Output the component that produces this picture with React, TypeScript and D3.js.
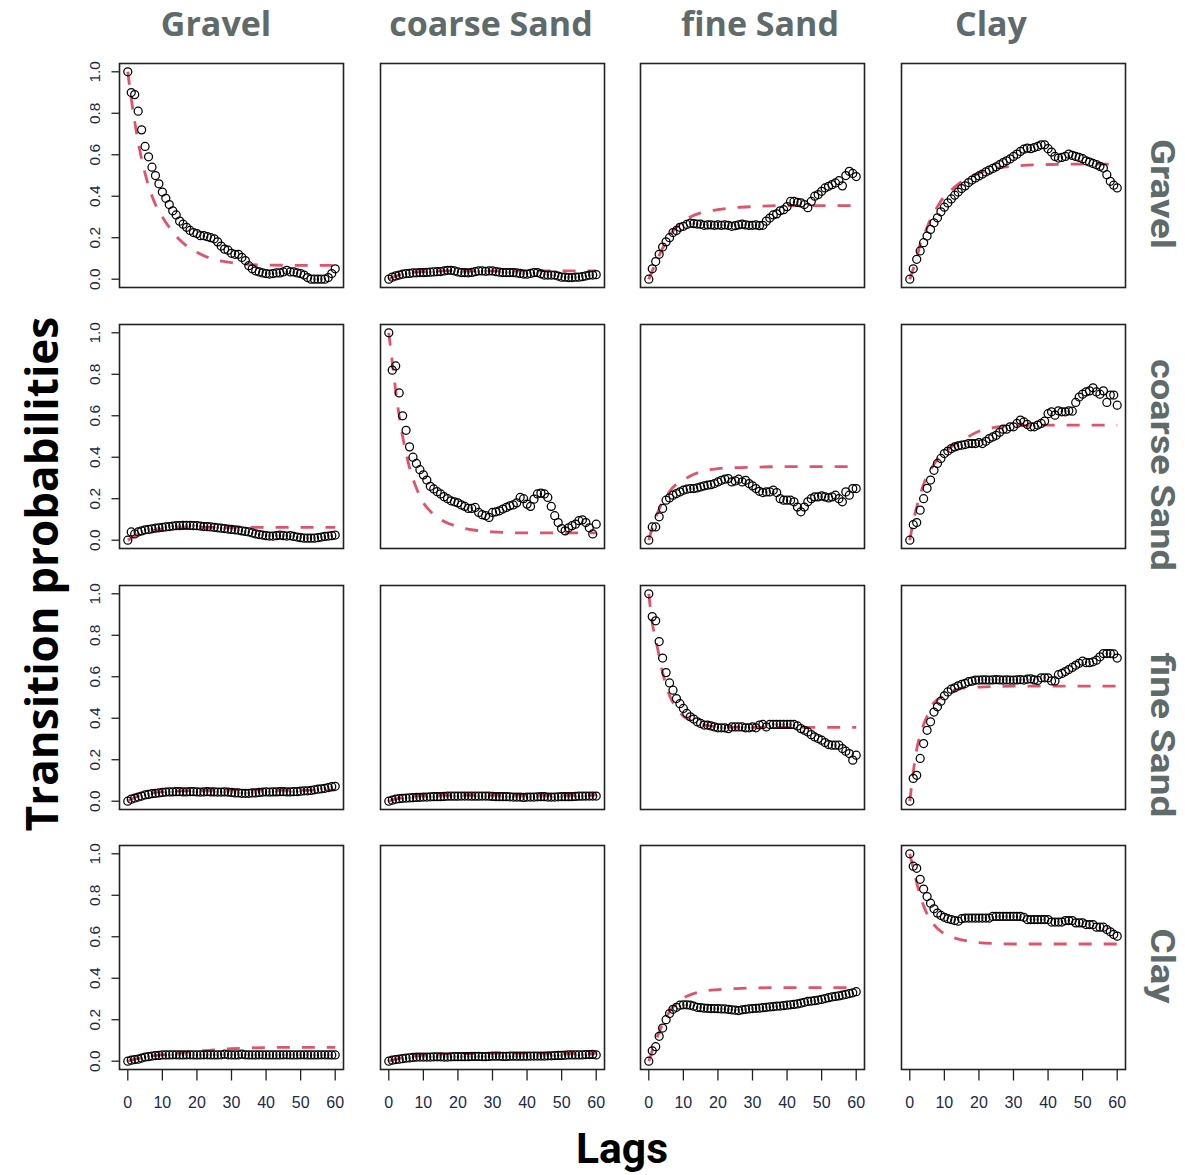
import React from "react";
import * as d3 from "d3";

const facies = ["Gravel", "coarse Sand", "fine Sand", "Clay"];
const yTicks = [0, 0.2, 0.4, 0.6, 0.8, 1.0];
const xTicks = [0, 10, 20, 30, 40, 50, 60];

// observed transition probabilities, lags 0..60 (row = from, col = to)
const obsGravelGravel = [1.0,0.9,0.89,0.81,0.72,0.64,0.59,0.54,0.5,0.46,0.42,0.39,0.36,0.33,0.31,0.28,0.265,0.25,0.235,0.225,0.22,0.21,0.21,0.205,0.2,0.195,0.18,0.16,0.145,0.14,0.125,0.12,0.12,0.105,0.09,0.065,0.05,0.04,0.035,0.03,0.027,0.025,0.027,0.03,0.03,0.035,0.043,0.035,0.035,0.03,0.027,0.02,0.008,0.0,0.0,0.0,0.0,0.0,0.008,0.027,0.05];
const obsGravelCoarse = [0.0,0.01,0.016,0.02,0.024,0.027,0.028,0.03,0.031,0.032,0.032,0.033,0.034,0.035,0.036,0.037,0.04,0.043,0.043,0.04,0.035,0.032,0.032,0.031,0.033,0.036,0.04,0.04,0.038,0.04,0.04,0.036,0.034,0.032,0.032,0.032,0.032,0.03,0.028,0.025,0.024,0.028,0.032,0.032,0.026,0.02,0.02,0.02,0.02,0.015,0.01,0.01,0.008,0.008,0.01,0.01,0.012,0.016,0.02,0.02,0.022];
const obsGravelFine = [0.0,0.05,0.085,0.12,0.155,0.18,0.2,0.225,0.235,0.25,0.255,0.264,0.27,0.268,0.266,0.265,0.26,0.262,0.262,0.26,0.262,0.26,0.262,0.26,0.255,0.258,0.262,0.265,0.262,0.26,0.26,0.262,0.258,0.26,0.28,0.295,0.31,0.315,0.33,0.335,0.35,0.375,0.375,0.37,0.368,0.36,0.345,0.375,0.4,0.408,0.424,0.44,0.448,0.456,0.464,0.475,0.45,0.5,0.52,0.51,0.495];
const obsGravelClay = [0.0,0.05,0.096,0.136,0.176,0.208,0.24,0.272,0.296,0.325,0.347,0.368,0.387,0.405,0.42,0.437,0.45,0.466,0.478,0.488,0.498,0.507,0.517,0.526,0.534,0.542,0.552,0.562,0.571,0.58,0.592,0.603,0.616,0.627,0.632,0.629,0.635,0.64,0.648,0.648,0.629,0.613,0.592,0.584,0.587,0.592,0.603,0.597,0.592,0.587,0.581,0.571,0.565,0.558,0.552,0.544,0.536,0.504,0.472,0.453,0.44];

const obsCoarseGravel = [0.0,0.04,0.03,0.04,0.045,0.05,0.052,0.055,0.058,0.06,0.062,0.064,0.066,0.068,0.07,0.07,0.071,0.072,0.071,0.07,0.07,0.068,0.066,0.065,0.064,0.062,0.06,0.058,0.056,0.054,0.052,0.05,0.048,0.045,0.042,0.04,0.035,0.03,0.027,0.025,0.022,0.02,0.02,0.022,0.024,0.022,0.02,0.022,0.018,0.015,0.012,0.01,0.01,0.01,0.01,0.012,0.015,0.018,0.02,0.022,0.025];
const obsCoarseCoarse = [1.0,0.82,0.84,0.71,0.6,0.53,0.45,0.4,0.37,0.34,0.315,0.29,0.26,0.247,0.234,0.223,0.21,0.2,0.19,0.185,0.18,0.17,0.163,0.153,0.153,0.158,0.134,0.123,0.118,0.11,0.134,0.137,0.142,0.15,0.158,0.166,0.17,0.18,0.206,0.2,0.174,0.163,0.198,0.223,0.227,0.223,0.206,0.163,0.118,0.085,0.056,0.045,0.06,0.07,0.077,0.094,0.098,0.085,0.06,0.03,0.077];
const obsCoarseFine = [0.0,0.064,0.064,0.113,0.153,0.193,0.204,0.217,0.225,0.233,0.241,0.246,0.249,0.249,0.252,0.257,0.262,0.265,0.268,0.273,0.281,0.289,0.294,0.297,0.281,0.286,0.294,0.281,0.289,0.273,0.262,0.249,0.236,0.23,0.233,0.233,0.241,0.23,0.2,0.193,0.193,0.193,0.185,0.16,0.137,0.16,0.185,0.2,0.209,0.209,0.214,0.209,0.204,0.209,0.217,0.2,0.185,0.233,0.217,0.249,0.249];
const obsCoarseClay = [0.0,0.075,0.085,0.145,0.2,0.25,0.29,0.337,0.37,0.394,0.418,0.43,0.442,0.45,0.455,0.458,0.461,0.466,0.466,0.466,0.471,0.466,0.477,0.49,0.498,0.506,0.52,0.535,0.535,0.547,0.547,0.563,0.579,0.57,0.558,0.547,0.547,0.555,0.563,0.574,0.61,0.619,0.603,0.624,0.619,0.619,0.624,0.622,0.664,0.69,0.704,0.715,0.72,0.735,0.715,0.704,0.72,0.664,0.7,0.7,0.651];

const obsFineGravel = [0.0,0.01,0.015,0.02,0.025,0.03,0.033,0.036,0.038,0.04,0.042,0.044,0.045,0.045,0.046,0.046,0.045,0.045,0.046,0.046,0.045,0.044,0.045,0.046,0.045,0.045,0.044,0.044,0.045,0.044,0.042,0.04,0.04,0.038,0.038,0.038,0.04,0.04,0.042,0.044,0.045,0.044,0.045,0.045,0.046,0.046,0.045,0.045,0.046,0.046,0.048,0.05,0.05,0.052,0.055,0.058,0.06,0.062,0.066,0.07,0.072];
const obsFineCoarse = [0.0,0.005,0.01,0.012,0.014,0.015,0.016,0.017,0.018,0.019,0.02,0.02,0.021,0.022,0.022,0.022,0.023,0.024,0.024,0.024,0.024,0.025,0.025,0.025,0.024,0.024,0.024,0.025,0.025,0.024,0.023,0.022,0.022,0.022,0.022,0.021,0.02,0.02,0.02,0.018,0.02,0.02,0.02,0.021,0.022,0.022,0.02,0.02,0.02,0.021,0.022,0.022,0.022,0.022,0.023,0.024,0.024,0.025,0.025,0.025,0.025];
const obsFineFine = [1.0,0.89,0.87,0.77,0.69,0.62,0.57,0.535,0.495,0.47,0.447,0.423,0.407,0.396,0.383,0.375,0.367,0.367,0.363,0.358,0.354,0.354,0.354,0.35,0.358,0.358,0.358,0.358,0.354,0.354,0.358,0.354,0.367,0.37,0.358,0.37,0.37,0.37,0.37,0.37,0.37,0.37,0.37,0.363,0.35,0.342,0.334,0.321,0.31,0.302,0.294,0.283,0.273,0.27,0.27,0.27,0.254,0.241,0.23,0.198,0.222];
const obsFineClay = [0.0,0.11,0.125,0.206,0.278,0.342,0.383,0.43,0.455,0.482,0.508,0.527,0.54,0.547,0.556,0.563,0.568,0.576,0.579,0.584,0.584,0.585,0.585,0.584,0.585,0.586,0.585,0.584,0.585,0.584,0.584,0.585,0.586,0.584,0.588,0.59,0.585,0.582,0.595,0.595,0.595,0.58,0.58,0.61,0.616,0.625,0.635,0.645,0.655,0.665,0.675,0.668,0.668,0.672,0.68,0.696,0.712,0.712,0.712,0.71,0.69];

const obsClayGravel = [0.0,0.005,0.008,0.01,0.015,0.02,0.022,0.025,0.027,0.028,0.03,0.03,0.03,0.031,0.031,0.03,0.03,0.031,0.031,0.03,0.03,0.03,0.031,0.031,0.03,0.03,0.03,0.031,0.034,0.031,0.03,0.03,0.03,0.034,0.031,0.03,0.03,0.03,0.031,0.031,0.03,0.03,0.03,0.03,0.03,0.031,0.031,0.03,0.03,0.03,0.031,0.031,0.03,0.03,0.03,0.03,0.031,0.031,0.03,0.03,0.03];
const obsClayCoarse = [0.0,0.005,0.008,0.01,0.012,0.015,0.016,0.018,0.02,0.02,0.02,0.02,0.02,0.021,0.021,0.021,0.02,0.02,0.021,0.022,0.022,0.022,0.022,0.022,0.023,0.023,0.023,0.022,0.022,0.023,0.024,0.024,0.024,0.023,0.023,0.024,0.024,0.024,0.024,0.024,0.024,0.025,0.025,0.025,0.025,0.025,0.026,0.026,0.027,0.028,0.028,0.029,0.03,0.03,0.03,0.03,0.03,0.032,0.032,0.033,0.03];
const obsClayFine = [0.0,0.05,0.07,0.12,0.16,0.2,0.23,0.25,0.26,0.27,0.272,0.272,0.27,0.265,0.26,0.258,0.256,0.255,0.254,0.254,0.253,0.252,0.252,0.25,0.248,0.246,0.244,0.248,0.25,0.252,0.254,0.255,0.256,0.258,0.26,0.262,0.263,0.265,0.266,0.268,0.27,0.272,0.274,0.276,0.28,0.284,0.288,0.29,0.292,0.295,0.298,0.302,0.306,0.31,0.312,0.315,0.318,0.322,0.326,0.33,0.335];
const obsClayClay = [1.0,0.94,0.93,0.877,0.83,0.794,0.762,0.735,0.714,0.703,0.694,0.687,0.683,0.678,0.675,0.687,0.69,0.69,0.69,0.69,0.69,0.69,0.69,0.69,0.698,0.698,0.698,0.698,0.698,0.698,0.698,0.698,0.698,0.694,0.683,0.683,0.683,0.683,0.683,0.683,0.683,0.671,0.671,0.671,0.671,0.678,0.678,0.678,0.667,0.667,0.667,0.659,0.659,0.659,0.646,0.646,0.646,0.635,0.624,0.611,0.603];

// fitted Markov-chain model: lags and probabilities read at those lags
const modelLags = [0, 1, 2, 3, 4, 5, 6, 8, 10, 12, 15, 20, 25, 30, 40, 50, 60];
const modGravelGravel = [1.0,0.87,0.76,0.66,0.58,0.51,0.45,0.36,0.3,0.25,0.19,0.13,0.095,0.08,0.068,0.067,0.067];
const modGravelCoarse = [0.0,0.008,0.015,0.02,0.025,0.029,0.032,0.036,0.038,0.039,0.04,0.04,0.04,0.04,0.04,0.04,0.04];
const modGravelFine = [0.0,0.04,0.08,0.115,0.15,0.18,0.21,0.25,0.28,0.3,0.32,0.335,0.345,0.35,0.355,0.355,0.355];
const modGravelClay = [0.0,0.05,0.1,0.17,0.21,0.25,0.29,0.35,0.4,0.43,0.47,0.51,0.535,0.545,0.553,0.555,0.555];
const modCoarseGravel = [0.0,0.01,0.02,0.028,0.034,0.039,0.043,0.049,0.053,0.056,0.059,0.061,0.062,0.062,0.062,0.062,0.062];
const modCoarseCoarse = [1.0,0.86,0.72,0.6,0.5,0.42,0.35,0.25,0.18,0.14,0.1,0.065,0.048,0.04,0.035,0.035,0.035];
const modCoarseFine = [0.0,0.06,0.11,0.15,0.185,0.21,0.235,0.27,0.29,0.31,0.33,0.345,0.35,0.352,0.355,0.355,0.355];
const modCoarseClay = [0.0,0.09,0.16,0.22,0.27,0.31,0.34,0.39,0.42,0.45,0.48,0.525,0.545,0.552,0.555,0.555,0.555];
const modFineGravel = [0.0,0.01,0.018,0.025,0.03,0.035,0.038,0.043,0.046,0.048,0.05,0.052,0.053,0.053,0.053,0.053,0.053];
const modFineCoarse = [0.0,0.006,0.011,0.015,0.018,0.021,0.023,0.026,0.028,0.029,0.03,0.03,0.03,0.03,0.03,0.03,0.03];
const modFineFine = [1.0,0.86,0.78,0.7,0.62,0.56,0.51,0.45,0.41,0.39,0.37,0.36,0.357,0.356,0.356,0.356,0.356];
const modFineClay = [0.0,0.14,0.25,0.32,0.37,0.41,0.45,0.49,0.51,0.53,0.545,0.55,0.553,0.555,0.555,0.555,0.555];
const modClayGravel = [0.0,0.005,0.01,0.013,0.016,0.02,0.023,0.028,0.032,0.035,0.04,0.048,0.055,0.06,0.066,0.067,0.067];
const modClayCoarse = [0.0,0.005,0.01,0.014,0.017,0.02,0.023,0.027,0.03,0.032,0.034,0.036,0.037,0.038,0.038,0.038,0.038];
const modClayFine = [0.0,0.05,0.1,0.14,0.18,0.21,0.24,0.28,0.305,0.32,0.335,0.345,0.35,0.353,0.355,0.355,0.355];
const modClayClay = [1.0,0.93,0.86,0.8,0.75,0.71,0.68,0.64,0.615,0.6,0.585,0.572,0.567,0.565,0.565,0.565,0.565];

const observed = [
  [obsGravelGravel, obsGravelCoarse, obsGravelFine, obsGravelClay],
  [obsCoarseGravel, obsCoarseCoarse, obsCoarseFine, obsCoarseClay],
  [obsFineGravel, obsFineCoarse, obsFineFine, obsFineClay],
  [obsClayGravel, obsClayCoarse, obsClayFine, obsClayClay],
];
const modelled = [
  [modGravelGravel, modGravelCoarse, modGravelFine, modGravelClay],
  [modCoarseGravel, modCoarseCoarse, modCoarseFine, modCoarseClay],
  [modFineGravel, modFineCoarse, modFineFine, modFineClay],
  [modClayGravel, modClayCoarse, modClayFine, modClayClay],
];

const colTitleX = [216, 491, 760, 991];
const rowTitleY = [194, 465, 735, 966];
const rowTitleLen = [110, 212, 165, 75];

export default function App() {
  const W = 1185, H = 1175;
  const colX = [119.5, 380.5, 640.5, 901.5];
  const rowY = [63.5, 324.5, 585.5, 845.5];
  const pw = 224, ph = 224;
  const x = d3.scaleLinear().domain([-2.4, 62.4]).range([0, pw]);
  const y = d3.scaleLinear().domain([-0.04, 1.04]).range([ph, 0]);
  const modelLine = (vals: number[]) =>
    d3.line<number>()
      .x((_, i) => x(modelLags[i]))
      .y((v) => y(v))
      .curve(d3.curveMonotoneX)(vals) || "";
  const gray = "#5f6a6a";
  const tickCol = "#1c2a48";

  return (
    <svg width={W} height={H} style={{ position: "absolute", left: 0, top: 0, background: "#fff" }}>
      <rect width={W} height={H} fill="#fff" />
      {facies.map((f, i) => (
        <text key={"ct" + i} x={colTitleX[i]} y={36} textAnchor="middle"
          fontFamily="'Open Sans', sans-serif" fontWeight="bold" fontSize={34} fill={gray}>{f}</text>
      ))}
      {facies.map((f, i) => (
        <text key={"rt" + i} transform={`translate(1151,${rowTitleY[i]}) rotate(90)`} textAnchor="middle"
          textLength={rowTitleLen[i]} lengthAdjust="spacingAndGlyphs"
          fontFamily="Roboto, sans-serif" fontWeight="bold" fontSize={34} fill={gray}>{f}</text>
      ))}
      <text transform="translate(58,574) rotate(-90)" textAnchor="middle"
        fontFamily="'Open Sans', sans-serif" fontWeight="bold" fontSize={44} fill="#000">Transition probabilities</text>
      <text x={622} y={1163} textAnchor="middle" textLength={92} lengthAdjust="spacingAndGlyphs"
        fontFamily="Roboto, sans-serif" fontWeight="bold" fontSize={43} fill="#000">Lags</text>

      {rowY.map((ry, r) =>
        colX.map((cx, c) => (
          <g key={`p${r}-${c}`} transform={`translate(${cx},${ry})`}>
            <path d={modelLine(modelled[r][c])} fill="none" stroke="#DF536B" strokeWidth={2.8} strokeDasharray="13,12" />
            {observed[r][c].map((v, i) => (
              <circle key={i} cx={x(i)} cy={y(v)} r={4} fill="none" stroke="#000" strokeWidth={1.25} />
            ))}
            <rect x={0} y={0} width={pw} height={ph} fill="none" stroke="#222" strokeWidth={1.6} />
            {c === 0 && yTicks.map((t) => (
              <g key={"yt" + t} transform={`translate(0,${y(t)})`}>
                <line x1={-8} x2={0} stroke="#222" strokeWidth={1.3} />
                <text transform="translate(-25,0) rotate(-90)" textAnchor="middle" dominantBaseline="central"
                  fontFamily="'Liberation Sans', Arial, sans-serif" fontSize={15.5} fill={tickCol}>{t.toFixed(1)}</text>
              </g>
            ))}
            {r === 3 && xTicks.map((t) => (
              <g key={"xt" + t} transform={`translate(${x(t)},${ph})`}>
                <line y1={0} y2={11} stroke="#222" strokeWidth={1.3} />
                <text y={33} textAnchor="middle" dominantBaseline="central"
                  fontFamily="'Liberation Sans', Arial, sans-serif" fontSize={16} fill={tickCol}>{t}</text>
              </g>
            ))}
          </g>
        ))
      )}
    </svg>
  );
}
